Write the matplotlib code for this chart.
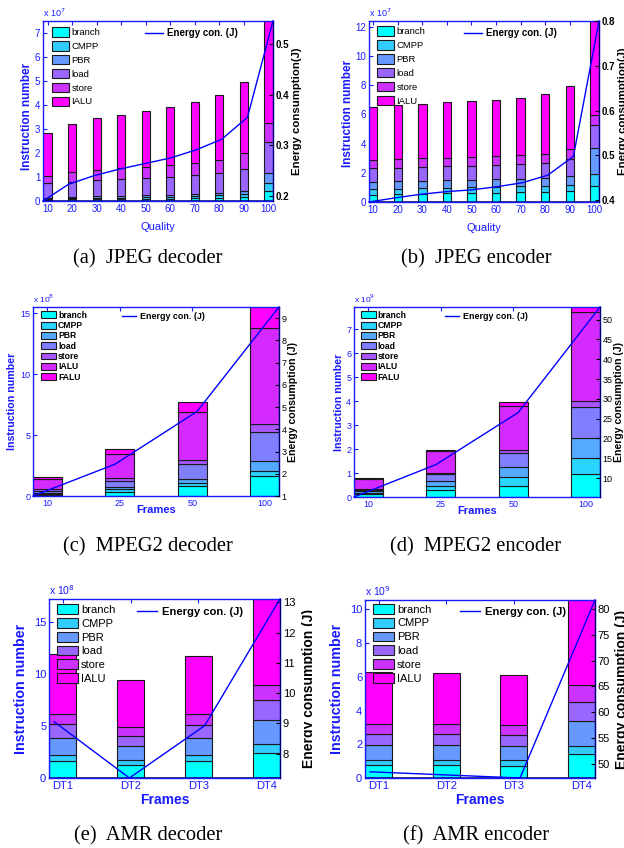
import numpy as np
import matplotlib
matplotlib.use('Agg')
import matplotlib.pyplot as plt
from matplotlib.transforms import Bbox, TransformedBbox

plt.rcParams['font.family'] = ['Liberation Sans', 'DejaVu Sans']

# ------------------------------------------------------------------ data
names6 = ['branch', 'CMPP', 'PBR', 'load', 'store', 'IALU']
names7 = ['branch', 'CMPP', 'PBR', 'load', 'store', 'IALU', 'FALU']

# (a) JPEG decoder, x 10^7 instructions
quality = [10, 20, 30, 40, 50, 60, 70, 80, 90, 100]
quality_labels = ['10', '20', '30', '40', '50', '60', '70', '80', '90', '100']
jd_branch = [0.05, 0.065, 0.075, 0.08, 0.09, 0.095, 0.105, 0.125, 0.155, 0.42]
jd_cmpp = [0.04, 0.055, 0.065, 0.065, 0.075, 0.08, 0.085, 0.105, 0.13, 0.35]
jd_pbr = [0.05, 0.06, 0.07, 0.075, 0.085, 0.085, 0.10, 0.12, 0.145, 0.39]
jd_load = [0.60, 0.61, 0.65, 0.68, 0.70, 0.74, 0.78, 0.81, 0.89, 1.28]
jd_store = [0.32, 0.41, 0.43, 0.46, 0.48, 0.50, 0.52, 0.54, 0.66, 0.80]
jd_ialu = [1.77, 1.99, 2.16, 2.23, 2.34, 2.41, 2.53, 2.71, 2.97, 4.26]
jd_energy = [0.19, 0.223, 0.240, 0.253, 0.264, 0.275, 0.291, 0.312, 0.355, 0.545]

# (b) JPEG encoder, x 10^7
je_branch = [0.50, 0.55, 0.57, 0.59, 0.62, 0.64, 0.66, 0.69, 0.73, 1.12]
je_cmpp = [0.39, 0.36, 0.37, 0.39, 0.39, 0.39, 0.41, 0.41, 0.46, 0.78]
je_pbr = [0.50, 0.51, 0.52, 0.51, 0.52, 0.52, 0.53, 0.55, 0.62, 1.80]
je_load = [0.92, 0.93, 0.94, 0.96, 0.96, 1.01, 0.98, 1.02, 1.12, 1.58]
je_store = [0.55, 0.58, 0.59, 0.59, 0.60, 0.59, 0.62, 0.64, 0.68, 0.66]
je_ialu = [3.65, 3.72, 3.75, 3.79, 3.84, 3.87, 3.95, 4.07, 4.37, 6.46]
je_energy = [0.396, 0.405, 0.413, 0.419, 0.423, 0.430, 0.439, 0.456, 0.498, 0.80]

# (c) MPEG2 decoder, x 10^8
frames_labels = ['10', '25', '50', '100']
md_branch = [0.08, 0.36, 0.82, 1.64]
md_cmpp = [0.08, 0.19, 0.22, 0.44]
md_pbr = [0.11, 0.16, 0.36, 0.77]
md_load = [0.17, 0.55, 1.20, 2.41]
md_store = [0.13, 0.19, 0.33, 0.63]
md_ialu = [0.80, 2.00, 3.97, 7.91]
md_falu = [0.16, 0.41, 0.85, 1.70]
md_energy = [1.0, 2.43, 4.80, 9.5]

# (d) MPEG2 encoder, x 10^9
me_branch = [0.11, 0.28, 0.47, 0.95]
me_cmpp = [0.07, 0.17, 0.37, 0.68]
me_pbr = [0.06, 0.21, 0.39, 0.81]
me_load = [0.07, 0.29, 0.62, 1.33]
me_store = [0.04, 0.05, 0.13, 0.23]
me_ialu = [0.42, 0.92, 1.83, 3.71]
me_falu = [0.02, 0.06, 0.14, 0.21]
me_energy = [5.2, 13.4, 26.5, 53.2]

# (e) AMR decoder, x 10^8
dt_labels = ['DT1', 'DT2', 'DT3', 'DT4']
ad_branch = [1.64, 1.28, 1.64, 2.41]
ad_cmpp = [0.58, 0.45, 0.58, 0.83]
ad_pbr = [1.67, 1.39, 1.63, 2.38]
ad_load = [1.28, 0.96, 1.26, 1.86]
ad_store = [1.03, 0.87, 1.03, 1.48]
ad_ialu = [5.75, 4.53, 5.65, 8.29]
ad_energy = [9.06, 7.20, 8.93, 13.11]

# (f) AMR encoder, x 10^9
ae_branch = [0.79, 0.79, 0.73, 1.41]
ae_cmpp = [0.30, 0.30, 0.32, 0.51]
ae_pbr = [0.87, 0.87, 0.87, 1.43]
ae_load = [0.67, 0.67, 0.65, 1.18]
ae_store = [0.60, 0.56, 0.58, 0.96]
ae_ialu = [3.03, 3.01, 2.95, 5.06]
ae_energy = [48.5, 47.9, 47.3, 81.7]

# ------------------------------------------------------------------ layout
W, H = 624, 848
fig = plt.figure(figsize=(W / 100, H / 100), dpi=100)
BLUE = '#1a1aff'


def px_rect(l, t, r, b):
    return [l / W, 1 - b / H, (r - l) / W, (b - t) / H]


def panel(rect, xs, xlabels, stacks, names, energy, st):
    ax = fig.add_axes(px_rect(*rect))
    xs = np.asarray(xs, dtype=float)
    colors = plt.cm.cool(np.linspace(0, 1, len(names)))
    bottom = np.zeros(len(xs))
    for vals, name, c in zip(stacks, names, colors):
        vals = np.asarray(vals, dtype=float)
        ax.bar(xs, vals, st['width'], bottom=bottom, color=c,
               edgecolor='#1a1a1a', linewidth=0.8, label=name, zorder=2)
        bottom += vals
    ax.set_xlim(st['xlim'])
    ax.set_ylim(0, bottom.max())
    ax.set_xticks(xs)
    ax.set_xticklabels(xlabels)
    ax.set_yticks(st['yticks'])
    ax.tick_params(axis='both', colors=BLUE, direction='in', labelsize=st['tick'],
                   length=3, width=0.8, top=True, pad=2)
    ax.tick_params(axis='y', right=False)
    for s in ax.spines.values():
        s.set_color(BLUE)
        s.set_linewidth(1.0)
    if st.get('baseline'):
        ax.axhline(0, color='#000080', lw=1.8, zorder=3)
    ax.set_ylabel('Instruction number', color=BLUE, fontweight='bold',
                  fontsize=st['ylab'])
    ax.yaxis.set_label_coords(st['ylab_x'], st.get('ylab_y', 0.5))
    ax.set_xlabel(st['xlabel'], color=BLUE, fontsize=st['xlab'],
                  fontweight=st['xlab_w'])
    ax.xaxis.set_label_coords(0.5, st['xlab_y'])
    ax.text(0.0, 1.01, r'x 10$^{%d}$' % st['exp'], transform=ax.transAxes,
            ha='left', va='bottom', color=BLUE, fontsize=st['exp_fs'])
    ax.legend(loc='upper left', bbox_to_anchor=st['leg_xy'], frameon=False,
              handlelength=st['hl'], handleheight=st['hh'], labelspacing=st['ls'],
              handletextpad=0.25, borderpad=0, borderaxespad=0,
              prop={'size': st['leg_fs'], 'weight': st['leg_w']})

    ax2 = ax.twinx()
    x0, x1 = st['xlim']
    lx = np.linspace(x0 + st['lpad'] * (x1 - x0), x1, len(energy))
    ax2.plot(lx, energy, color='#0000ff', lw=1.0, label='Energy con. (J)',
             clip_on=False, zorder=5)
    ax2.set_xlim(st['xlim'])
    ax2.set_ylim(min(energy), max(energy))
    ax2.set_yticks(st['eticks'])
    ax2.tick_params(axis='y', colors='black', direction='in', labelsize=st['etick'],
                    length=3, width=0.8, pad=2)
    if st['etick_bold']:
        for t in ax2.get_yticklabels():
            t.set_fontweight('bold')
    for k in ['left', 'top', 'bottom']:
        ax2.spines[k].set_visible(False)
    ax2.spines['right'].set_color('#000060')
    ax2.set_ylabel(st['elabel'], color='black', fontweight='bold', fontsize=st['elab'])
    ax2.yaxis.set_label_coords(st['elab_x'], 0.5)
    if st.get('clip_x') is not None:
        cb = TransformedBbox(Bbox([[0, 0], [st['clip_x'] / W, 1]]), fig.transFigure)
        ax2.yaxis.label.set_clip_box(cb)
        ax2.yaxis.label.set_clip_on(True)
    ax2.legend(loc='upper left', bbox_to_anchor=st['eleg_xy'], frameon=False,
               handlelength=st['ehl'], handletextpad=0.4, borderpad=0,
               borderaxespad=0, prop={'size': st['eleg_fs'], 'weight': 'bold'})
    return ax, ax2


common_ab = dict(width=3.4, tick=7, ylab=8.5, xlabel='Quality', xlab=8, xlab_w='normal',
                 xlab_y=-0.115, exp=7, exp_fs=6.5, leg_fs=6.8, leg_w='normal', hl=1.8,
                 hh=1.15, ls=0.42, etick=7, etick_bold=True, elabel='Energy consumption(J)',
                 elab=8.2, eleg_fs=7, ehl=1.9, lpad=0.0, baseline=True)

st_a = dict(common_ab, xlim=(8.1, 101.9), yticks=range(0, 8), eticks=[0.2, 0.3, 0.4, 0.5],
            ylab_x=-0.045, ylab_y=0.47, elab_x=1.083, leg_xy=(0.039, 0.965),
            eleg_xy=(0.443, 0.961))
st_b = dict(common_ab, xlim=(8.3, 101.9), yticks=range(0, 13, 2),
            eticks=[0.4, 0.5, 0.6, 0.7, 0.8], ylab_x=-0.065, ylab_y=0.49, elab_x=1.083,
            leg_xy=(0.035, 0.97), eleg_xy=(0.413, 0.96))

common_cd = dict(width=0.4, xlim=(0.8, 4.2), tick=6.5, ylab=7.7, xlabel='Frames', xlab=8,
                 xlab_w='bold', xlab_y=-0.05, exp_fs=6, leg_fs=6.2, leg_w='bold', hl=1.7,
                 hh=0.85, ls=0.15, etick=6.5, etick_bold=False,
                 elabel='Energy consumption (J)', elab=7.6, eleg_fs=6.4, ehl=1.6, lpad=0.0)
st_c = dict(common_cd, exp=8, yticks=[0, 5, 10, 15], eticks=range(1, 10), ylab_x=-0.065,
            elab_x=1.037, leg_xy=(0.033, 0.98), eleg_xy=(0.362, 0.975))
st_d = dict(common_cd, exp=9, yticks=range(0, 8), eticks=range(10, 51, 5), ylab_x=-0.04,
            elab_x=1.057, leg_xy=(0.028, 0.98), eleg_xy=(0.37, 0.975))

common_ef = dict(width=0.4, xlim=(0.8, 4.2), tick=8, ylab=10.3, xlabel='Frames', xlab=10,
                 xlab_w='bold', xlab_y=-0.084, exp_fs=7.5, leg_fs=8, leg_w='normal', hl=1.9,
                 hh=0.96, ls=0.28, etick=8, etick_bold=False,
                 elabel='Energy consumption (J)', elab=10, eleg_fs=8.1, ehl=1.8,
                 lpad=0.022, baseline=True)
st_e = dict(common_ef, exp=8, yticks=[0, 5, 10, 15], eticks=range(8, 14), ylab_x=-0.091,
            elab_x=1.095, clip_x=312, leg_xy=(0.035, 0.97), eleg_xy=(0.381, 0.955))
st_f = dict(common_ef, exp=9, yticks=range(0, 11, 2), eticks=range(50, 81, 5),
            ylab_x=-0.091, elab_x=1.087, leg_xy=(0.035, 0.977), eleg_xy=(0.413, 0.96))

panel((43, 21, 273, 201), quality, quality_labels,
      [jd_branch, jd_cmpp, jd_pbr, jd_load, jd_store, jd_ialu], names6, jd_energy, st_a)
panel((369, 21, 599, 202), quality, quality_labels,
      [je_branch, je_cmpp, je_pbr, je_load, je_store, je_ialu], names6, je_energy, st_b)
panel((33, 307, 279, 496), np.arange(1, 5), frames_labels,
      [md_branch, md_cmpp, md_pbr, md_load, md_store, md_ialu, md_falu], names7,
      md_energy, st_c)
panel((354, 307, 600, 497), np.arange(1, 5), frames_labels,
      [me_branch, me_cmpp, me_pbr, me_load, me_store, me_ialu, me_falu], names7,
      me_energy, st_d)
panel((49, 599, 280, 778), np.arange(1, 5), dt_labels,
      [ad_branch, ad_cmpp, ad_pbr, ad_load, ad_store, ad_ialu], names6, ad_energy, st_e)
panel((365, 600, 595, 778), np.arange(1, 5), dt_labels,
      [ae_branch, ae_cmpp, ae_pbr, ae_load, ae_store, ae_ialu], names6, ae_energy, st_f)

captions = [('(a)  JPEG decoder', 148, 259), ('(b)  JPEG encoder', 476, 259),
            ('(c)  MPEG2 decoder', 148, 547), ('(d)  MPEG2 encoder', 476, 547),
            ('(e)  AMR decoder', 148, 836), ('(f)  AMR encoder', 476, 836)]
for txt, cx, cy in captions:
    fig.text(cx / W, 1 - cy / H, txt, ha='center', va='center',
             family='Liberation Serif', fontsize=14.8)

fig.savefig('out.png', dpi=100)
